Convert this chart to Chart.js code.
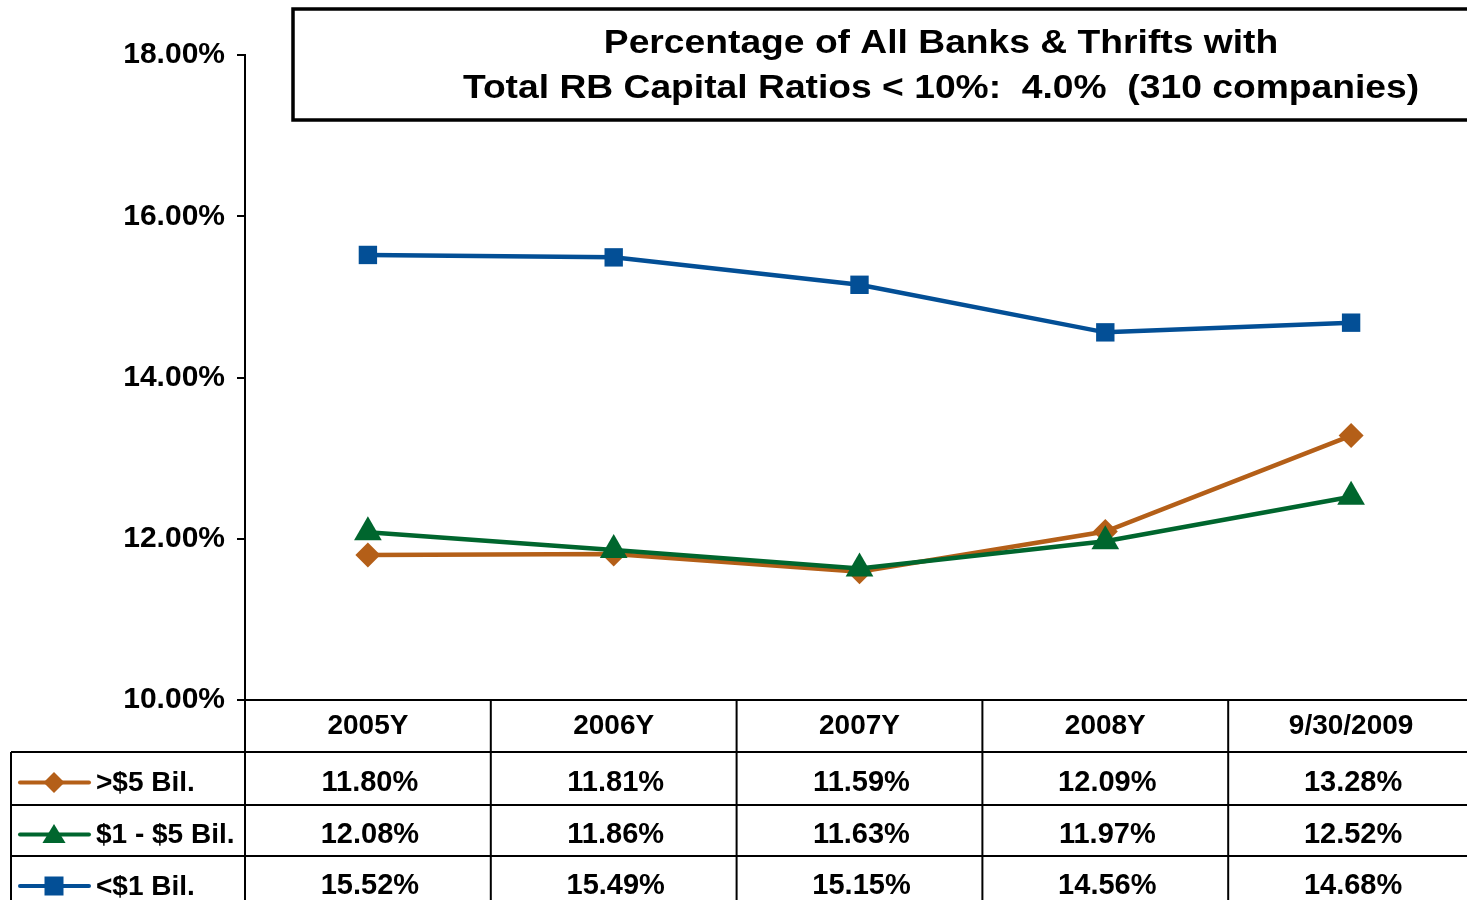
<!DOCTYPE html>
<html>
<head>
<meta charset="utf-8">
<script src="https://cdn.jsdelivr.net/npm/chart.js@4/dist/chart.umd.min.js"></script>
<style>
  html, body { margin: 0; padding: 0; background: #fff; overflow: hidden; }
  #wrap { width: 1500px; height: 900px; position: relative; }
</style>
</head>
<body>
<div id="wrap"><canvas id="ratios"></canvas></div>
<script>
const periods = ['2005Y', '2006Y', '2007Y', '2008Y', '9/30/2009'];
const seriesNames = ['>$5 Bil.', '$1 - $5 Bil.', '<$1 Bil.'];
const over5Bil = [11.80, 11.81, 11.59, 12.09, 13.28];
const oneTo5Bil = [12.08, 11.86, 11.63, 11.97, 12.52];
const under1Bil = [15.52, 15.49, 15.15, 14.56, 14.68];
const titleLines = [
    'Percentage of All Banks & Thrifts with',
    'Total RB Capital Ratios < 10%:  4.0%  (310 companies)'
];

const FONT = '"Liberation Sans", Arial, sans-serif';
const colors = ['#B45F18', '#00662E', '#034F96'];
const markers = ['rectRot', 'triangle', 'rect'];
const seriesValues = [over5Bil, oneTo5Bil, under1Bil];

// boxed title in the top right
const titleBox = {
    id: 'titleBox',
    afterDraw(chart) {
        const ctx = chart.ctx;
        ctx.save();
        ctx.lineWidth = 3.5;
        ctx.strokeStyle = '#000';
        ctx.strokeRect(293, 9, 1400, 111);
        ctx.fillStyle = '#000';
        ctx.font = `bold 34px ${FONT}`;
        ctx.textAlign = 'center';
        ctx.textBaseline = 'middle';
        // the title font is a little wider than plain Arial
        ctx.translate(941, 0);
        ctx.scale(1.095, 1);
        ctx.fillText(titleLines[0], 0, 44);
        ctx.fillText(titleLines[1], 0, 89);
        ctx.restore();
    }
};

function drawMarker(ctx, style, x, y, r) {
    ctx.beginPath();
    if (style === 'rect') {
        ctx.rect(x - r, y - r, 2 * r, 2 * r);
    } else if (style === 'rectRot') {
        ctx.moveTo(x, y - r);
        ctx.lineTo(x + r, y);
        ctx.lineTo(x, y + r);
        ctx.lineTo(x - r, y);
        ctx.closePath();
    } else {
        ctx.moveTo(x, y - r);
        ctx.lineTo(x + r * 1.1, y + r * 0.8);
        ctx.lineTo(x - r * 1.1, y + r * 0.8);
        ctx.closePath();
    }
    ctx.fill();
}

// data table under the plot, with the legend keys in the first column
const dataTable = {
    id: 'dataTable',
    afterDraw(chart) {
        const ctx = chart.ctx;
        const xs = chart.scales.x;
        const area = chart.chartArea;
        const rowTops = [700, 752, 805, 856, 908];
        const tableLeft = 11;
        const right = chart.width;
        const centers = periods.map((p, i) => xs.getPixelForValue(i));
        const bounds = [];
        for (let i = 0; i < centers.length - 1; i++) bounds.push((centers[i] + centers[i + 1]) / 2);

        ctx.save();
        ctx.strokeStyle = '#000';
        ctx.lineWidth = 2;
        ctx.beginPath();
        ctx.moveTo(area.left, rowTops[0]);
        ctx.lineTo(right, rowTops[0]);
        for (let r = 1; r < rowTops.length - 1; r++) {
            ctx.moveTo(tableLeft, rowTops[r]);
            ctx.lineTo(right, rowTops[r]);
        }
        ctx.moveTo(tableLeft, rowTops[1]);
        ctx.lineTo(tableLeft, 900);
        ctx.moveTo(area.left, area.bottom);
        ctx.lineTo(area.left, 900);
        bounds.forEach(b => {
            ctx.moveTo(b, rowTops[0]);
            ctx.lineTo(b, 900);
        });
        ctx.stroke();

        ctx.fillStyle = '#000';
        ctx.font = `bold 28px ${FONT}`;
        ctx.textAlign = 'center';
        ctx.textBaseline = 'middle';
        periods.forEach((p, i) => ctx.fillText(p, centers[i], (rowTops[0] + rowTops[1]) / 2));

        seriesValues.forEach((vals, s) => {
            const cy = (rowTops[s + 1] + rowTops[s + 2]) / 2 + 4;
            ctx.font = `bold 29px ${FONT}`;
            ctx.textAlign = 'center';
            vals.forEach((v, i) => {
                ctx.fillStyle = '#000';
                ctx.fillText(v.toFixed(2) + '%', centers[i] + 2, cy);
            });
            // legend key
            ctx.strokeStyle = colors[s];
            ctx.lineWidth = 4;
            ctx.lineCap = 'round';
            ctx.beginPath();
            ctx.moveTo(20, cy);
            ctx.lineTo(89, cy);
            ctx.stroke();
            ctx.fillStyle = colors[s];
            drawMarker(ctx, markers[s], 54, cy, s === 2 ? 9.5 : 10.5);
            ctx.fillStyle = '#000';
            ctx.textAlign = 'left';
            ctx.font = `bold 28px ${FONT}`;
            ctx.fillText(seriesNames[s], 96, cy + 1);
        });
        ctx.restore();
    }
};

const radii = [12.5, 16, 13];
const drawOrder = [1, 0, 2];

new Chart(document.getElementById('ratios').getContext('2d'), {
    type: 'line',
    data: {
        labels: periods,
        datasets: seriesValues.map((vals, s) => ({
            label: seriesNames[s],
            data: vals,
            borderColor: colors[s],
            backgroundColor: colors[s],
            borderWidth: 4.5,
            pointStyle: markers[s],
            pointRadius: radii[s],
            pointBorderWidth: 0,
            pointBackgroundColor: colors[s],
            tension: 0,
            order: drawOrder[s]
        }))
    },
    options: {
        responsive: true,
        maintainAspectRatio: false,
        animation: false,
        layout: { padding: { left: 0, top: 55, right: 26, bottom: 200 } },
        plugins: {
            legend: { display: false },
            tooltip: { enabled: false }
        },
        scales: {
            x: {
                display: false,
                offset: true
            },
            y: {
                min: 10,
                max: 18,
                afterFit: scale => { scale.width = 245; },
                border: { display: true, color: '#000', width: 2 },
                grid: {
                    drawOnChartArea: false,
                    drawTicks: true,
                    tickLength: 8,
                    color: '#000',
                    lineWidth: 2
                },
                ticks: {
                    stepSize: 2,
                    padding: 12,
                    color: '#000',
                    font: { family: FONT, size: 30, weight: 'bold' },
                    callback: v => v.toFixed(2) + '%'
                }
            }
        }
    },
    plugins: [titleBox, dataTable]
});
</script>
</body>
</html>
